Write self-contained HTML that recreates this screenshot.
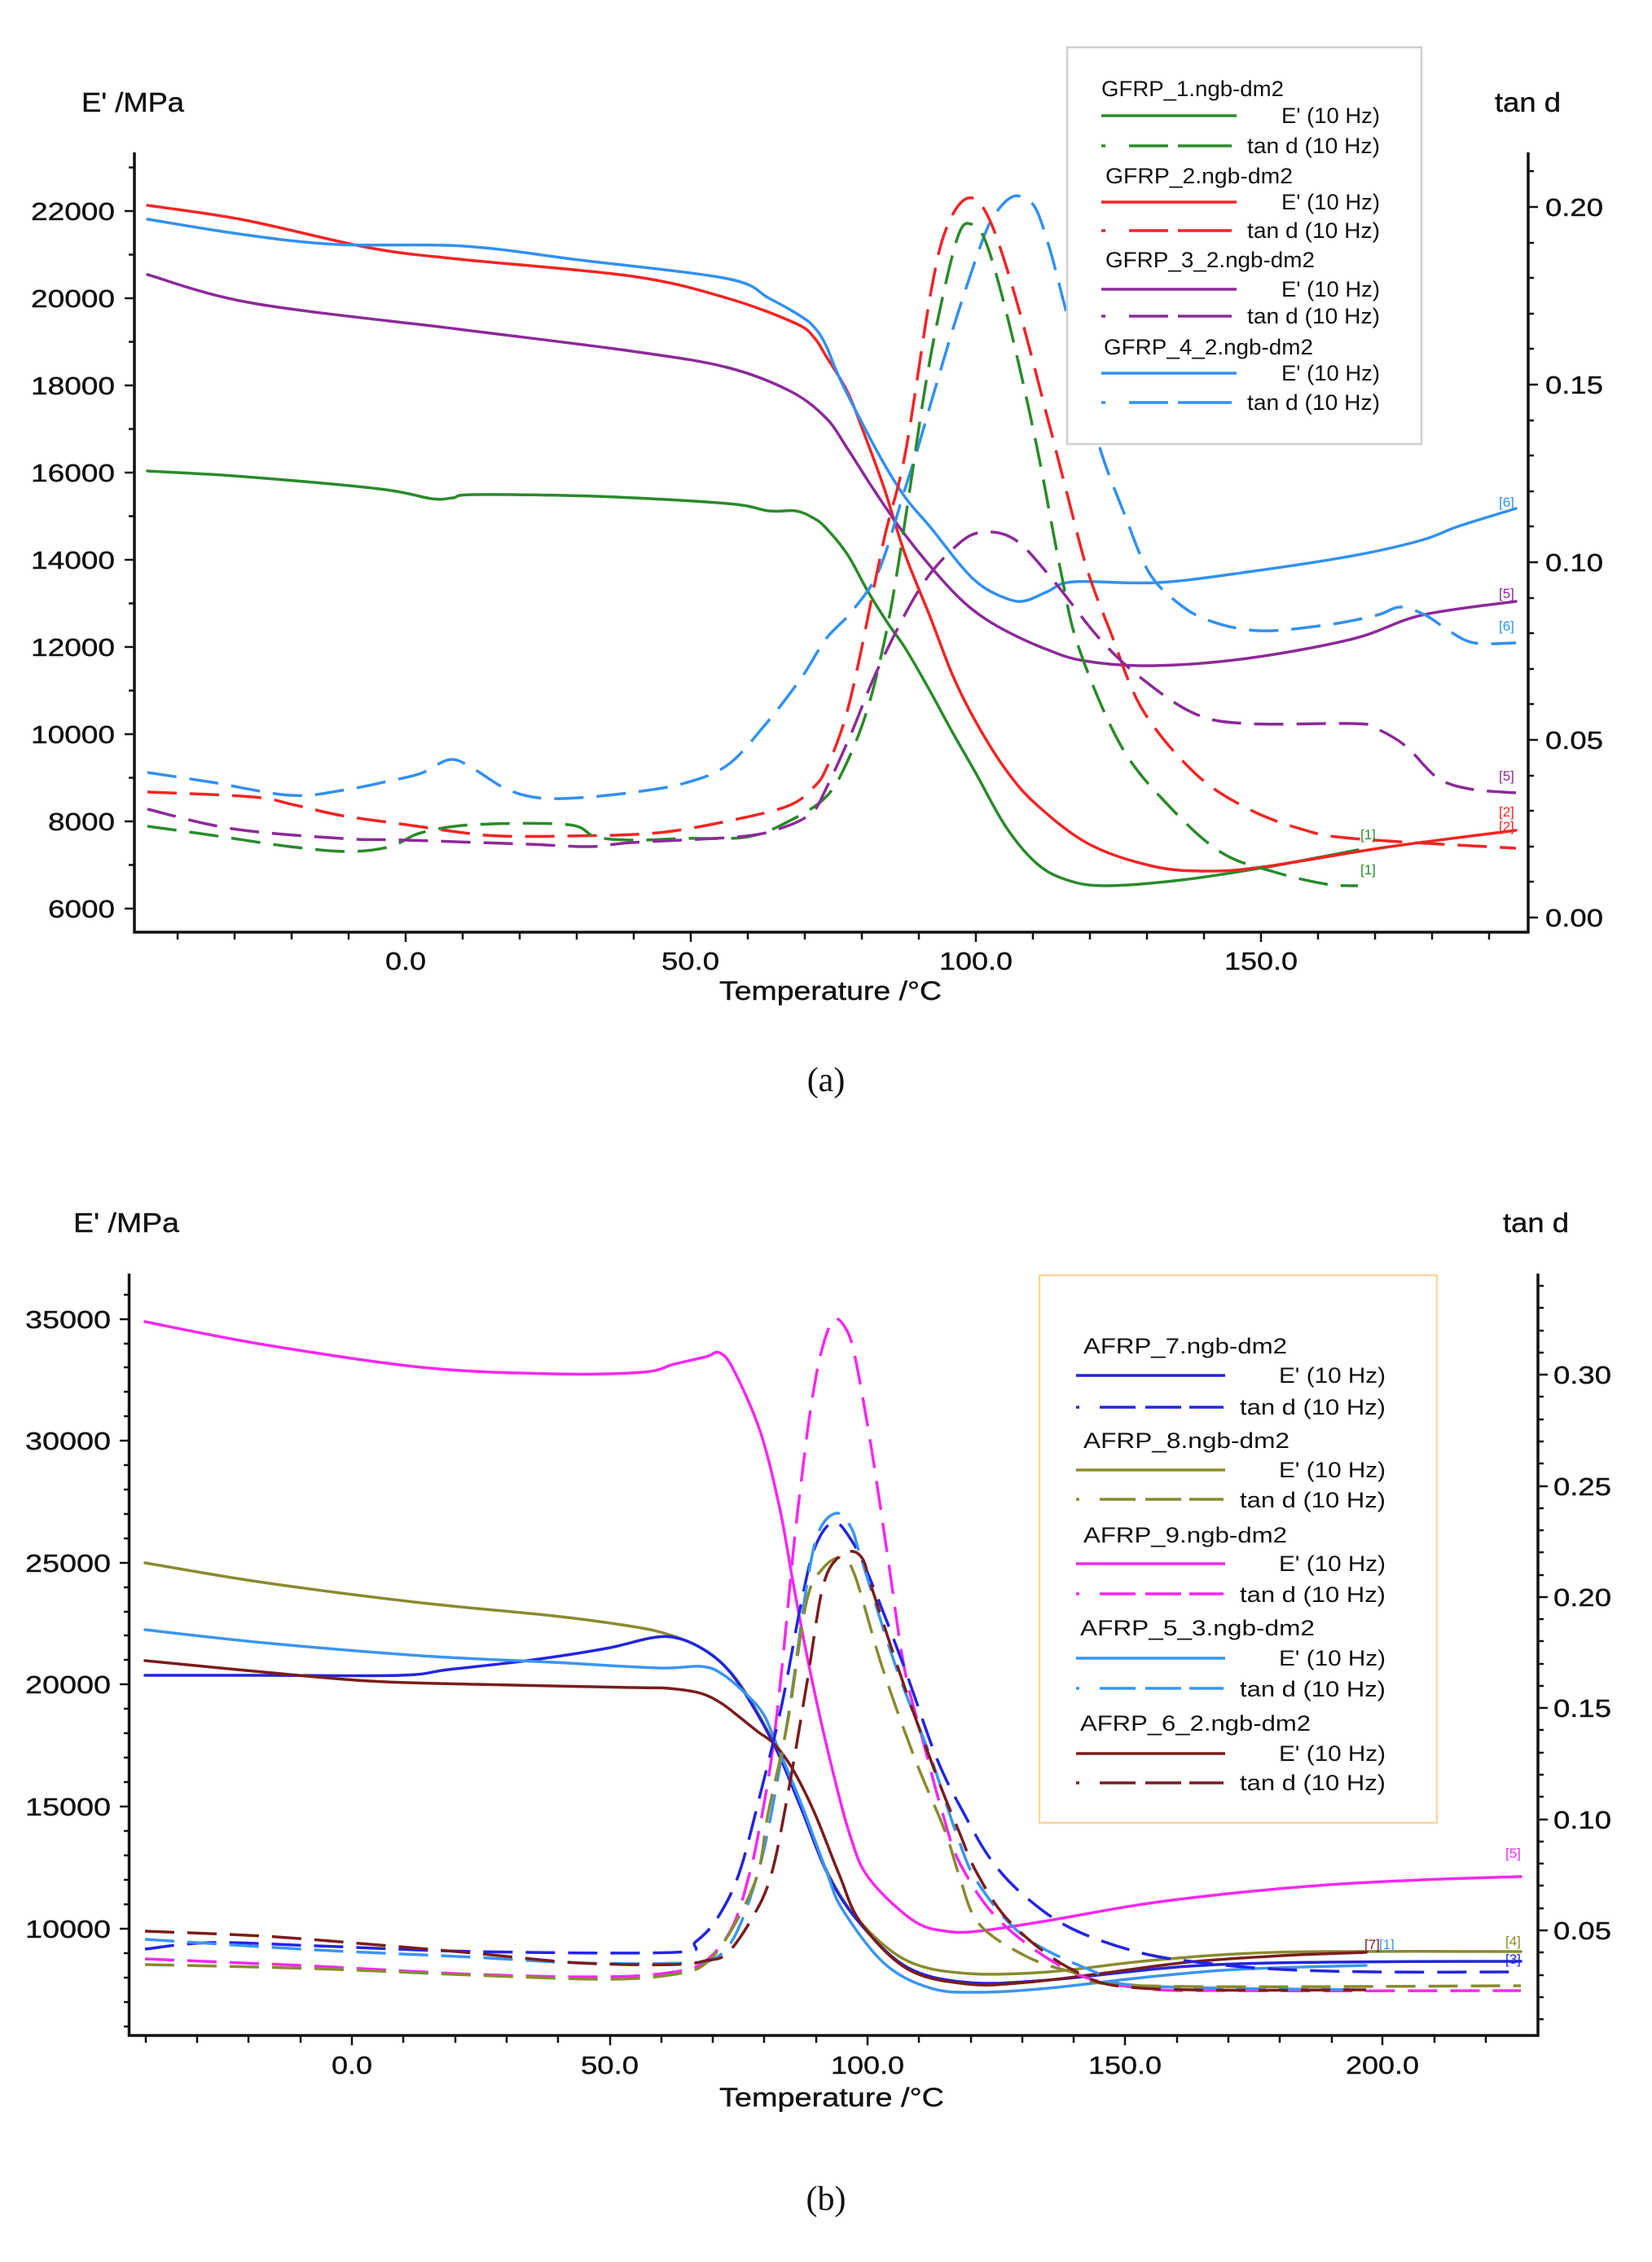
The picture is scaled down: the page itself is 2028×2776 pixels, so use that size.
<!DOCTYPE html>
<html>
<head>
<meta charset="utf-8">
<style>
html,body{margin:0;padding:0;background:#fff;}
svg{display:block;}
text{font-family:"Liberation Sans",Arial,sans-serif;fill:#111;}
.tk{font-size:31px;stroke:#111;stroke-width:0.4;}
.lg{font-size:27px;fill:#333;}
.cap{font-family:"Liberation Serif",serif;font-size:42px;fill:#111;stroke:none;}
.sm{font-size:17px;}
.c{fill:none;stroke-width:3.5;stroke-linejoin:round;stroke-linecap:round;}
.d{stroke-dasharray:36 16;stroke-linecap:butt;}
.ax{stroke:#111;stroke-width:3.5;fill:none;}
.tick{stroke:#111;stroke-width:2.5;}
</style>
</head>
<body>
<svg id="S" width="2028" height="2776" viewBox="0 0 2028 2776" xmlns="http://www.w3.org/2000/svg">
<rect x="0" y="0" width="2028" height="2776" fill="#fff"/>

<!-- ================= CHART (a) ================= -->
<polyline class="ax" points="165,187 165,1144 1876,1144 1876,187"/>
<g class="tick">
<line x1="153" y1="1115" x2="165" y2="1115"/><line x1="153" y1="1008" x2="165" y2="1008"/>
<line x1="153" y1="901" x2="165" y2="901"/><line x1="153" y1="794" x2="165" y2="794"/>
<line x1="153" y1="687" x2="165" y2="687"/><line x1="153" y1="580" x2="165" y2="580"/>
<line x1="153" y1="473" x2="165" y2="473"/><line x1="153" y1="366" x2="165" y2="366"/>
<line x1="153" y1="259" x2="165" y2="259"/>
<line x1="158" y1="1061.5" x2="165" y2="1061.5"/><line x1="158" y1="954.5" x2="165" y2="954.5"/>
<line x1="158" y1="847.5" x2="165" y2="847.5"/><line x1="158" y1="740.5" x2="165" y2="740.5"/>
<line x1="158" y1="633.5" x2="165" y2="633.5"/><line x1="158" y1="526.5" x2="165" y2="526.5"/>
<line x1="158" y1="419.5" x2="165" y2="419.5"/><line x1="158" y1="312.5" x2="165" y2="312.5"/>
<line x1="158" y1="205.5" x2="165" y2="205.5"/>
</g>
<g class="tick">
<line x1="1876" y1="1126" x2="1888" y2="1126"/><line x1="1876" y1="908" x2="1888" y2="908"/>
<line x1="1876" y1="690" x2="1888" y2="690"/><line x1="1876" y1="472" x2="1888" y2="472"/>
<line x1="1876" y1="254" x2="1888" y2="254"/>
<line x1="1876" y1="1082" x2="1883" y2="1082"/><line x1="1876" y1="1039" x2="1883" y2="1039"/>
<line x1="1876" y1="995" x2="1883" y2="995"/><line x1="1876" y1="952" x2="1883" y2="952"/>
<line x1="1876" y1="864" x2="1883" y2="864"/><line x1="1876" y1="821" x2="1883" y2="821"/>
<line x1="1876" y1="777" x2="1883" y2="777"/><line x1="1876" y1="734" x2="1883" y2="734"/>
<line x1="1876" y1="646" x2="1883" y2="646"/><line x1="1876" y1="603" x2="1883" y2="603"/>
<line x1="1876" y1="559" x2="1883" y2="559"/><line x1="1876" y1="516" x2="1883" y2="516"/>
<line x1="1876" y1="428" x2="1883" y2="428"/><line x1="1876" y1="385" x2="1883" y2="385"/>
<line x1="1876" y1="341" x2="1883" y2="341"/><line x1="1876" y1="298" x2="1883" y2="298"/>
<line x1="1876" y1="210" x2="1883" y2="210"/>
</g>
<g class="tick">
<line x1="218" y1="1144" x2="218" y2="1153"/><line x1="288" y1="1144" x2="288" y2="1153"/>
<line x1="358" y1="1144" x2="358" y2="1153"/><line x1="428" y1="1144" x2="428" y2="1153"/>
<line x1="498" y1="1144" x2="498" y2="1156"/><line x1="568" y1="1144" x2="568" y2="1153"/>
<line x1="638" y1="1144" x2="638" y2="1153"/><line x1="708" y1="1144" x2="708" y2="1153"/>
<line x1="778" y1="1144" x2="778" y2="1153"/><line x1="848" y1="1144" x2="848" y2="1156"/>
<line x1="918" y1="1144" x2="918" y2="1153"/><line x1="988" y1="1144" x2="988" y2="1153"/>
<line x1="1058" y1="1144" x2="1058" y2="1153"/><line x1="1128" y1="1144" x2="1128" y2="1153"/>
<line x1="1198" y1="1144" x2="1198" y2="1156"/><line x1="1268" y1="1144" x2="1268" y2="1153"/>
<line x1="1338" y1="1144" x2="1338" y2="1153"/><line x1="1408" y1="1144" x2="1408" y2="1153"/>
<line x1="1478" y1="1144" x2="1478" y2="1153"/><line x1="1548" y1="1144" x2="1548" y2="1156"/>
<line x1="1618" y1="1144" x2="1618" y2="1153"/><line x1="1688" y1="1144" x2="1688" y2="1153"/>
<line x1="1758" y1="1144" x2="1758" y2="1153"/><line x1="1828" y1="1144" x2="1828" y2="1153"/>
</g>
<g class="tk">
<text x="59" y="1126" textLength="82" lengthAdjust="spacingAndGlyphs">6000</text>
<text x="59" y="1019" textLength="82" lengthAdjust="spacingAndGlyphs">8000</text>
<text x="38" y="912" textLength="103" lengthAdjust="spacingAndGlyphs">10000</text>
<text x="38" y="805" textLength="103" lengthAdjust="spacingAndGlyphs">12000</text>
<text x="38" y="698" textLength="103" lengthAdjust="spacingAndGlyphs">14000</text>
<text x="38" y="591" textLength="103" lengthAdjust="spacingAndGlyphs">16000</text>
<text x="38" y="484" textLength="103" lengthAdjust="spacingAndGlyphs">18000</text>
<text x="38" y="377" textLength="103" lengthAdjust="spacingAndGlyphs">20000</text>
<text x="38" y="270" textLength="103" lengthAdjust="spacingAndGlyphs">22000</text>
<text x="1897" y="1137" textLength="71" lengthAdjust="spacingAndGlyphs">0.00</text>
<text x="1897" y="919" textLength="71" lengthAdjust="spacingAndGlyphs">0.05</text>
<text x="1897" y="701" textLength="71" lengthAdjust="spacingAndGlyphs">0.10</text>
<text x="1897" y="483" textLength="71" lengthAdjust="spacingAndGlyphs">0.15</text>
<text x="1897" y="265" textLength="71" lengthAdjust="spacingAndGlyphs">0.20</text>
<text x="473" y="1190" textLength="50" lengthAdjust="spacingAndGlyphs">0.0</text>
<text x="812" y="1190" textLength="71" lengthAdjust="spacingAndGlyphs">50.0</text>
<text x="1153" y="1190" textLength="90" lengthAdjust="spacingAndGlyphs">100.0</text>
<text x="1503" y="1190" textLength="90" lengthAdjust="spacingAndGlyphs">150.0</text>
</g>
<text class="tk" x="100" y="137" style="font-size:33px" textLength="126" lengthAdjust="spacingAndGlyphs">E' /MPa</text>
<text class="tk" x="1835" y="137" style="font-size:33px" textLength="81" lengthAdjust="spacingAndGlyphs">tan d</text>
<text class="tk" x="883" y="1227" style="font-size:32px" textLength="273" lengthAdjust="spacingAndGlyphs">Temperature /°C</text>
<text class="cap" x="1014" y="1339" text-anchor="middle">(a)</text>

<!-- curves (a) -->
<polyline class="c" stroke="#2a8a2a" points="181,578 300,585 466,600 530,612 556,611 582,607 731,609 893,618 944,627 977,627 999,636 1014,648 1040,680 1065,725 1090,765 1111,795 1140,845 1170,900 1198,949 1235,1015 1273,1060 1310,1080 1357,1087 1450,1080 1550,1065 1620,1052 1667,1043"/>
<polyline class="c" stroke="#f22424" points="181,252 300,270 453,304 563,318 776,339 893,366 977,397 1000,415 1014,437 1040,480 1060,530 1085,598 1111,680 1143,760 1170,830 1198,886 1235,945 1273,988 1337,1036 1415,1063 1480,1069 1550,1064 1700,1040 1861,1019"/>
<polyline class="c" stroke="#8b2a98" points="181,337 310,372 563,404 776,431 893,451 970,480 1014,513 1040,550 1072,600 1110,655 1156,711 1190,745 1227,770 1280,795 1331,811 1415,817 1531,808 1661,784 1745,755 1861,738"/>
<polyline class="c" stroke="#3290f0" points="181,269 300,288 414,300 569,302 711,319 893,342 944,366 983,388 1000,402 1014,424 1033,469 1079,558 1111,610 1143,648 1182,697 1208,721 1240,736 1260,737 1286,726 1318,714 1421,715 1531,702 1661,682 1745,663 1790,646 1861,624"/>

<polyline class="c d" stroke="#3290f0" points="181,948 260,960 356,976 420,970 480,958 517,949 553,932 582,944 621,968 660,979 711,979 780,972 841,961 893,939 938,891 983,833 1014,784 1046,750 1079,700 1111,600 1127,549 1150,470 1176,384 1208,290 1225,258 1244,241 1260,245 1273,259 1290,310 1308,379 1330,460 1350,549 1380,630 1409,700 1440,735 1480,760 1544,774 1628,767 1690,755 1719,745 1750,755 1780,775 1810,789 1861,789"/>
<polyline class="c d" stroke="#f22424" points="181,972 310,978 362,988 420,1001 498,1012 569,1022 615,1026 695,1026 808,1022 906,1005 970,988 1000,965 1014,944 1035,890 1053,818 1085,663 1111,558 1143,357 1163,277 1189,243 1214,268 1247,366 1286,513 1311,610 1335,700 1363,775 1402,870 1467,949 1531,992 1596,1017 1661,1029 1861,1041"/>
<polyline class="c d" stroke="#2a8a2a" points="181,1014 260,1025 356,1039 427,1045 479,1039 517,1022 582,1012 697,1012 731,1027 776,1031 841,1029 918,1027 970,1007 1014,978 1040,935 1065,870 1085,790 1100,710 1117,600 1135,480 1153,384 1176,290 1192,275 1211,299 1240,402 1273,549 1302,700 1324,794 1376,915 1434,988 1499,1046 1564,1070 1628,1085 1667,1087"/>
<polyline class="c d" stroke="#8b2a98" points="181,993 285,1017 420,1029 498,1031 647,1036 724,1039 776,1034 906,1027 957,1017 996,998 1014,968 1045,900 1079,818 1130,721 1176,668 1208,653 1247,663 1292,711 1350,784 1402,833 1467,876 1531,888 1661,888 1687,893 1725,915 1764,954 1803,968 1861,973"/>

<g class="sm">
<text x="1840" y="622" style="fill:#3290f0">[6]</text>
<text x="1840" y="734" style="fill:#8b2a98">[5]</text>
<text x="1840" y="774" style="fill:#3290f0">[6]</text>
<text x="1840" y="958" style="fill:#8b2a98">[5]</text>
<text x="1840" y="1002" style="fill:#f22424">[2]</text>
<text x="1840" y="1020" style="fill:#f22424">[2]</text>
<text x="1670" y="1030" style="fill:#2a8a2a">[1]</text>
<text x="1670" y="1073" style="fill:#2a8a2a">[1]</text>
</g>

<!-- legend (a) -->
<rect x="1310" y="58" width="435" height="487" fill="#fff" stroke="#cfcfcf" stroke-width="2.5"/>
<g class="lg">
<text x="1352" y="118" textLength="224" lengthAdjust="spacingAndGlyphs">GFRP_1.ngb-dm2</text>
<text x="1573" y="151" textLength="121" lengthAdjust="spacingAndGlyphs">E' (10 Hz)</text>
<text x="1531" y="188" textLength="163" lengthAdjust="spacingAndGlyphs">tan d (10 Hz)</text>
<text x="1357" y="225" textLength="230" lengthAdjust="spacingAndGlyphs">GFRP_2.ngb-dm2</text>
<text x="1573" y="257" textLength="121" lengthAdjust="spacingAndGlyphs">E' (10 Hz)</text>
<text x="1531" y="292" textLength="163" lengthAdjust="spacingAndGlyphs">tan d (10 Hz)</text>
<text x="1357" y="328" textLength="257" lengthAdjust="spacingAndGlyphs">GFRP_3_2.ngb-dm2</text>
<text x="1573" y="364" textLength="121" lengthAdjust="spacingAndGlyphs">E' (10 Hz)</text>
<text x="1531" y="397" textLength="163" lengthAdjust="spacingAndGlyphs">tan d (10 Hz)</text>
<text x="1355" y="435" textLength="257" lengthAdjust="spacingAndGlyphs">GFRP_4_2.ngb-dm2</text>
<text x="1573" y="467" textLength="121" lengthAdjust="spacingAndGlyphs">E' (10 Hz)</text>
<text x="1531" y="503" textLength="163" lengthAdjust="spacingAndGlyphs">tan d (10 Hz)</text>
</g>
<g stroke-width="3.5" fill="none">
<line x1="1352" y1="142" x2="1518" y2="142" stroke="#2a8a2a"/>
<path d="M1352 179h5M1386 179h48M1446 179h66" stroke="#2a8a2a"/>
<line x1="1352" y1="248" x2="1518" y2="248" stroke="#f22424"/>
<path d="M1352 283h5M1386 283h48M1446 283h66" stroke="#f22424"/>
<line x1="1352" y1="355" x2="1518" y2="355" stroke="#8b2a98"/>
<path d="M1352 388h5M1386 388h48M1446 388h66" stroke="#8b2a98"/>
<line x1="1352" y1="458" x2="1518" y2="458" stroke="#3290f0"/>
<path d="M1352 494h5M1386 494h48M1446 494h66" stroke="#3290f0"/>
</g>

<!-- ================= CHART (b) ================= -->
<polyline class="ax" points="158.5,1563 158.5,2498 1888,2498 1888,1563"/>
<g class="tick">
<line x1="147" y1="2367" x2="158" y2="2367"/><line x1="147" y1="2217" x2="158" y2="2217"/>
<line x1="147" y1="2067" x2="158" y2="2067"/><line x1="147" y1="1918" x2="158" y2="1918"/>
<line x1="147" y1="1768" x2="158" y2="1768"/><line x1="147" y1="1619" x2="158" y2="1619"/>
<line x1="152" y1="2487" x2="158" y2="2487"/><line x1="152" y1="2457" x2="158" y2="2457"/>
<line x1="152" y1="2427" x2="158" y2="2427"/><line x1="152" y1="2397" x2="158" y2="2397"/>
<line x1="152" y1="2337" x2="158" y2="2337"/><line x1="152" y1="2307" x2="158" y2="2307"/>
<line x1="152" y1="2277" x2="158" y2="2277"/><line x1="152" y1="2247" x2="158" y2="2247"/>
<line x1="152" y1="2187" x2="158" y2="2187"/><line x1="152" y1="2157" x2="158" y2="2157"/>
<line x1="152" y1="2127" x2="158" y2="2127"/><line x1="152" y1="2097" x2="158" y2="2097"/>
<line x1="152" y1="2037" x2="158" y2="2037"/><line x1="152" y1="2007" x2="158" y2="2007"/>
<line x1="152" y1="1978" x2="158" y2="1978"/><line x1="152" y1="1948" x2="158" y2="1948"/>
<line x1="152" y1="1888" x2="158" y2="1888"/><line x1="152" y1="1858" x2="158" y2="1858"/>
<line x1="152" y1="1828" x2="158" y2="1828"/><line x1="152" y1="1798" x2="158" y2="1798"/>
<line x1="152" y1="1738" x2="158" y2="1738"/><line x1="152" y1="1708" x2="158" y2="1708"/>
<line x1="152" y1="1678" x2="158" y2="1678"/><line x1="152" y1="1649" x2="158" y2="1649"/>
<line x1="152" y1="1589" x2="158" y2="1589"/>
</g>
<g class="tick">
<line x1="1888" y1="2369" x2="1900" y2="2369"/><line x1="1888" y1="2233" x2="1900" y2="2233"/>
<line x1="1888" y1="2096" x2="1900" y2="2096"/><line x1="1888" y1="1960" x2="1900" y2="1960"/>
<line x1="1888" y1="1824" x2="1900" y2="1824"/><line x1="1888" y1="1687" x2="1900" y2="1687"/>
<line x1="1888" y1="2478" x2="1895" y2="2478"/><line x1="1888" y1="2451" x2="1895" y2="2451"/>
<line x1="1888" y1="2424" x2="1895" y2="2424"/><line x1="1888" y1="2396" x2="1895" y2="2396"/>
<line x1="1888" y1="2342" x2="1895" y2="2342"/><line x1="1888" y1="2314" x2="1895" y2="2314"/>
<line x1="1888" y1="2287" x2="1895" y2="2287"/><line x1="1888" y1="2260" x2="1895" y2="2260"/>
<line x1="1888" y1="2205" x2="1895" y2="2205"/><line x1="1888" y1="2178" x2="1895" y2="2178"/>
<line x1="1888" y1="2151" x2="1895" y2="2151"/><line x1="1888" y1="2123" x2="1895" y2="2123"/>
<line x1="1888" y1="2069" x2="1895" y2="2069"/><line x1="1888" y1="2042" x2="1895" y2="2042"/>
<line x1="1888" y1="2014" x2="1895" y2="2014"/><line x1="1888" y1="1987" x2="1895" y2="1987"/>
<line x1="1888" y1="1933" x2="1895" y2="1933"/><line x1="1888" y1="1905" x2="1895" y2="1905"/>
<line x1="1888" y1="1878" x2="1895" y2="1878"/><line x1="1888" y1="1851" x2="1895" y2="1851"/>
<line x1="1888" y1="1796" x2="1895" y2="1796"/><line x1="1888" y1="1769" x2="1895" y2="1769"/>
<line x1="1888" y1="1742" x2="1895" y2="1742"/><line x1="1888" y1="1714" x2="1895" y2="1714"/>
<line x1="1888" y1="1660" x2="1895" y2="1660"/><line x1="1888" y1="1633" x2="1895" y2="1633"/>
<line x1="1888" y1="1605" x2="1895" y2="1605"/><line x1="1888" y1="1578" x2="1895" y2="1578"/>
</g>
<g class="tick">
<line x1="179" y1="2498" x2="179" y2="2507"/><line x1="242" y1="2498" x2="242" y2="2507"/>
<line x1="305" y1="2498" x2="305" y2="2507"/><line x1="369" y1="2498" x2="369" y2="2507"/>
<line x1="432" y1="2498" x2="432" y2="2510"/><line x1="495" y1="2498" x2="495" y2="2507"/>
<line x1="559" y1="2498" x2="559" y2="2507"/><line x1="622" y1="2498" x2="622" y2="2507"/>
<line x1="685" y1="2498" x2="685" y2="2507"/><line x1="749" y1="2498" x2="749" y2="2510"/>
<line x1="812" y1="2498" x2="812" y2="2507"/><line x1="875" y1="2498" x2="875" y2="2507"/>
<line x1="938" y1="2498" x2="938" y2="2507"/><line x1="1002" y1="2498" x2="1002" y2="2507"/>
<line x1="1065" y1="2498" x2="1065" y2="2510"/><line x1="1128" y1="2498" x2="1128" y2="2507"/>
<line x1="1192" y1="2498" x2="1192" y2="2507"/><line x1="1255" y1="2498" x2="1255" y2="2507"/>
<line x1="1318" y1="2498" x2="1318" y2="2507"/><line x1="1381" y1="2498" x2="1381" y2="2510"/>
<line x1="1445" y1="2498" x2="1445" y2="2507"/><line x1="1508" y1="2498" x2="1508" y2="2507"/>
<line x1="1571" y1="2498" x2="1571" y2="2507"/><line x1="1635" y1="2498" x2="1635" y2="2507"/>
<line x1="1697" y1="2498" x2="1697" y2="2510"/><line x1="1761" y1="2498" x2="1761" y2="2507"/>
<line x1="1824" y1="2498" x2="1824" y2="2507"/>
</g>
<g class="tk">
<text x="31" y="2378" textLength="105" lengthAdjust="spacingAndGlyphs">10000</text>
<text x="31" y="2228" textLength="105" lengthAdjust="spacingAndGlyphs">15000</text>
<text x="31" y="2078" textLength="105" lengthAdjust="spacingAndGlyphs">20000</text>
<text x="31" y="1929" textLength="105" lengthAdjust="spacingAndGlyphs">25000</text>
<text x="31" y="1779" textLength="105" lengthAdjust="spacingAndGlyphs">30000</text>
<text x="31" y="1630" textLength="105" lengthAdjust="spacingAndGlyphs">35000</text>
<text x="1907" y="2380" textLength="71" lengthAdjust="spacingAndGlyphs">0.05</text>
<text x="1907" y="2244" textLength="71" lengthAdjust="spacingAndGlyphs">0.10</text>
<text x="1907" y="2107" textLength="71" lengthAdjust="spacingAndGlyphs">0.15</text>
<text x="1907" y="1971" textLength="71" lengthAdjust="spacingAndGlyphs">0.20</text>
<text x="1907" y="1835" textLength="71" lengthAdjust="spacingAndGlyphs">0.25</text>
<text x="1907" y="1698" textLength="71" lengthAdjust="spacingAndGlyphs">0.30</text>
<text x="407" y="2545" textLength="50" lengthAdjust="spacingAndGlyphs">0.0</text>
<text x="713" y="2545" textLength="71" lengthAdjust="spacingAndGlyphs">50.0</text>
<text x="1020" y="2545" textLength="90" lengthAdjust="spacingAndGlyphs">100.0</text>
<text x="1336" y="2545" textLength="90" lengthAdjust="spacingAndGlyphs">150.0</text>
<text x="1652" y="2545" textLength="90" lengthAdjust="spacingAndGlyphs">200.0</text>
</g>
<text class="tk" x="90" y="1512" style="font-size:33px" textLength="130" lengthAdjust="spacingAndGlyphs">E' /MPa</text>
<text class="tk" x="1845" y="1512" style="font-size:33px" textLength="81" lengthAdjust="spacingAndGlyphs">tan d</text>
<text class="tk" x="883" y="2585" style="font-size:32px" textLength="276" lengthAdjust="spacingAndGlyphs">Temperature /°C</text>
<text class="cap" x="1014" y="2712" text-anchor="middle">(b)</text>

<!-- legend (b) -->
<rect x="1276" y="1565" width="488" height="672" fill="#fff" stroke="#f7d79a" stroke-width="2.5"/>
<g class="lg">
<text x="1330" y="1661" textLength="250" lengthAdjust="spacingAndGlyphs">AFRP_7.ngb-dm2</text>
<text x="1570" y="1697" textLength="131" lengthAdjust="spacingAndGlyphs">E' (10 Hz)</text>
<text x="1522" y="1736" textLength="179" lengthAdjust="spacingAndGlyphs">tan d (10 Hz)</text>
<text x="1330" y="1777" textLength="253" lengthAdjust="spacingAndGlyphs">AFRP_8.ngb-dm2</text>
<text x="1570" y="1813" textLength="131" lengthAdjust="spacingAndGlyphs">E' (10 Hz)</text>
<text x="1522" y="1850" textLength="179" lengthAdjust="spacingAndGlyphs">tan d (10 Hz)</text>
<text x="1330" y="1893" textLength="250" lengthAdjust="spacingAndGlyphs">AFRP_9.ngb-dm2</text>
<text x="1570" y="1928" textLength="131" lengthAdjust="spacingAndGlyphs">E' (10 Hz)</text>
<text x="1522" y="1966" textLength="179" lengthAdjust="spacingAndGlyphs">tan d (10 Hz)</text>
<text x="1326" y="2007" textLength="288" lengthAdjust="spacingAndGlyphs">AFRP_5_3.ngb-dm2</text>
<text x="1570" y="2044" textLength="131" lengthAdjust="spacingAndGlyphs">E' (10 Hz)</text>
<text x="1522" y="2082" textLength="179" lengthAdjust="spacingAndGlyphs">tan d (10 Hz)</text>
<text x="1326" y="2124" textLength="283" lengthAdjust="spacingAndGlyphs">AFRP_6_2.ngb-dm2</text>
<text x="1570" y="2161" textLength="131" lengthAdjust="spacingAndGlyphs">E' (10 Hz)</text>
<text x="1522" y="2197" textLength="179" lengthAdjust="spacingAndGlyphs">tan d (10 Hz)</text>
</g>
<g stroke-width="3.5" fill="none">
<line x1="1321" y1="1688" x2="1504" y2="1688" stroke="#2424e0"/>
<path d="M1321 1727h4M1350 1727h44M1406 1727h44M1460 1727h42" stroke="#2424e0"/>
<line x1="1321" y1="1804" x2="1504" y2="1804" stroke="#8a8a2e"/>
<path d="M1321 1840h4M1350 1840h44M1406 1840h44M1460 1840h42" stroke="#8a8a2e"/>
<line x1="1321" y1="1919" x2="1504" y2="1919" stroke="#f528f0"/>
<path d="M1321 1956h4M1350 1956h44M1406 1956h44M1460 1956h42" stroke="#f528f0"/>
<line x1="1321" y1="2035" x2="1504" y2="2035" stroke="#3a95f0"/>
<path d="M1321 2072h4M1350 2072h44M1406 2072h44M1460 2072h42" stroke="#3a95f0"/>
<line x1="1321" y1="2152" x2="1504" y2="2152" stroke="#7a1c1c"/>
<path d="M1321 2188h4M1350 2188h44M1406 2188h44M1460 2188h42" stroke="#7a1c1c"/>
</g>

<!-- curves (b) solid -->
<polyline class="c" stroke="#8a8a2e" points="178,1918 323,1942 517,1967 679,1983 776,1996 821,2006 860,2022 890,2045 917,2080 953,2145 983,2216 1017,2300 1057,2360 1115,2407 1189,2422 1287,2420 1402,2407 1517,2398 1631,2395 1867,2395"/>
<polyline class="c" stroke="#2424e0" points="178,2056 323,2056 492,2056 550,2049 647,2038 744,2023 800,2010 830,2010 860,2022 890,2045 917,2082 953,2147 983,2218 1017,2302 1057,2362 1115,2415 1189,2433 1287,2430 1459,2413 1631,2408 1867,2407"/>
<polyline class="c" stroke="#3a95f0" points="178,2000 323,2016 517,2032 679,2040 808,2047 860,2045 886,2054 918,2081 938,2105 953,2140 983,2212 1014,2295 1034,2343 1086,2410 1143,2440 1201,2445 1287,2440 1402,2427 1517,2417 1677,2412"/>
<polyline class="c" stroke="#7a1c1c" points="178,2038 323,2052 453,2063 582,2067 776,2071 821,2072 860,2078 885,2090 905,2105 930,2125 950,2140 973,2171 1000,2225 1030,2300 1057,2360 1115,2417 1189,2435 1258,2433 1344,2423 1459,2408 1574,2400 1677,2396"/>
<polyline class="c" stroke="#f528f0" points="178,1622 323,1650 517,1678 679,1686 789,1684 828,1674 867,1665 883,1660 900,1680 933,1756 957,1850 973,1939 990,2029 1010,2122 1033,2216 1046,2260 1060,2295 1086,2327 1126,2360 1161,2370 1201,2370 1287,2357 1402,2337 1517,2323 1631,2313 1746,2307 1867,2303"/>

<!-- curves (b) dashed -->
<polyline class="c d" stroke="#f528f0" points="178,2404 388,2413 582,2423 744,2426 828,2420 867,2406 899,2365 920,2300 933,2240 947,2158 960,2046 973,1912 983,1823 995,1730 1008,1660 1023,1620 1038,1630 1050,1667 1070,1779 1090,1912 1110,2046 1133,2136 1157,2225 1180,2290 1230,2360 1316,2420 1402,2440 1517,2443 1867,2443"/>
<polyline class="c d" stroke="#2424e0" points="178,2392 259,2384 388,2388 582,2395 828,2396 854,2383 880,2355 907,2300 933,2203 960,2091 983,1970 1000,1900 1023,1868 1045,1890 1067,1935 1110,2046 1150,2158 1183,2225 1217,2283 1258,2327 1316,2367 1402,2397 1488,2410 1574,2417 1689,2420 1867,2420"/>
<polyline class="c d" stroke="#3a95f0" points="178,2380 388,2393 582,2402 711,2409 841,2409 880,2402 905,2370 930,2300 947,2225 970,2091 990,1948 1005,1880 1027,1857 1045,1875 1057,1912 1100,2046 1143,2158 1173,2247 1200,2310 1258,2377 1344,2420 1402,2437 1677,2442"/>
<polyline class="c d" stroke="#8a8a2e" points="178,2411 388,2416 582,2424 744,2429 828,2423 867,2409 900,2365 930,2300 943,2225 967,2113 990,1966 1010,1925 1033,1912 1050,1935 1083,2046 1123,2158 1160,2247 1177,2300 1201,2360 1258,2400 1316,2420 1402,2437 1867,2437"/>
<polyline class="c d" stroke="#7a1c1c" points="178,2370 323,2376 453,2386 582,2397 711,2409 828,2411 867,2406 893,2397 925,2351 947,2300 967,2203 990,2069 1010,1948 1030,1910 1047,1904 1060,1915 1070,1948 1110,2069 1150,2180 1177,2247 1200,2300 1241,2360 1316,2417 1402,2440 1677,2442"/>

<g class="sm">
<text x="1848" y="2280" style="fill:#f528f0">[5]</text>
<text x="1675" y="2392" style="fill:#7a1c1c">[7]</text>
<text x="1693" y="2392" style="fill:#3a95f0">[1]</text>
<text x="1848" y="2388" style="fill:#8a8a2e">[4]</text>
<text x="1848" y="2410" style="fill:#2424e0">[3]</text>
</g>
</svg>
<script>
(function(){
  var NS="http://www.w3.org/2000/svg";
  var pls=document.querySelectorAll("polyline.c");
  for(var i=0;i<pls.length;i++){
    var pl=pls[i];
    var raw=pl.getAttribute("points").trim().split(/\s+/);
    var p=[];
    for(var j=0;j<raw.length;j++){var a=raw[j].split(",");p.push([+a[0],+a[1]]);}
    if(p.length<3)continue;
    var d="M"+p[0][0]+" "+p[0][1];
    for(var k=0;k<p.length-1;k++){
      var p0=p[k>0?k-1:k],p1=p[k],p2=p[k+1],p3=p[k+2<p.length?k+2:k+1];
      var t=0.5/3;
      var c1x=p1[0]+(p2[0]-p0[0])*t, c1y=p1[1]+(p2[1]-p0[1])*t;
      var c2x=p2[0]-(p3[0]-p1[0])*t, c2y=p2[1]-(p3[1]-p1[1])*t;
      d+="C"+c1x.toFixed(1)+" "+c1y.toFixed(1)+" "+c2x.toFixed(1)+" "+c2y.toFixed(1)+" "+p2[0]+" "+p2[1];
    }
    var path=document.createElementNS(NS,"path");
    path.setAttribute("d",d);
    path.setAttribute("class",pl.getAttribute("class"));
    path.setAttribute("stroke",pl.getAttribute("stroke"));
    pl.parentNode.replaceChild(path,pl);
  }
})();
</script>
</body>
</html>
